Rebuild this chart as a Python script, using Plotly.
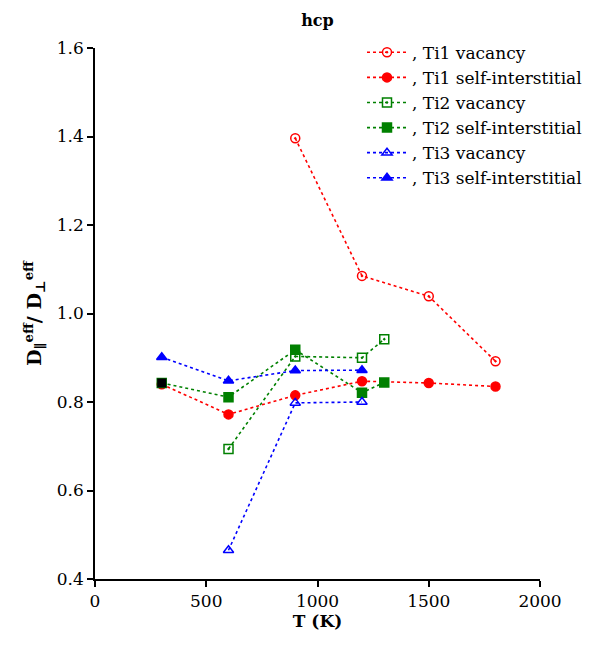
import plotly.graph_objects as go

# Data
ti1_vac_T = [900, 1200, 1500, 1800]
ti1_vac_r = [1.396, 1.085, 1.039, 0.892]

ti1_si_T = [300, 600, 900, 1200, 1500, 1800]
ti1_si_r = [0.840, 0.772, 0.815, 0.847, 0.843, 0.835]

ti2_vac_T = [600, 900, 1200, 1300]
ti2_vac_r = [0.694, 0.903, 0.900, 0.942]

ti2_si_T = [300, 600, 900, 1200, 1300]
ti2_si_r = [0.843, 0.811, 0.918, 0.821, 0.844]

ti3_vac_T = [600, 900, 1200]
ti3_vac_r = [0.465, 0.798, 0.800]

ti3_si_T = [300, 600, 900, 1200]
ti3_si_r = [0.901, 0.848, 0.871, 0.872]

FONT = "DejaVu Serif"

fig = go.Figure()

def add(name, x, y, color, symbol):
    fig.add_trace(go.Scatter(
        x=x, y=y, name=name, mode="lines+markers",
        line=dict(color=color, dash="dot", width=1.6),
        marker=dict(symbol=symbol, size=9, color=color,
                    line=dict(color=color, width=1.5)),
    ))

add(", Ti1 vacancy", ti1_vac_T, ti1_vac_r, "red", "circle-open-dot")
add(", Ti1 self-interstitial", ti1_si_T, ti1_si_r, "red", "circle")
add(", Ti2 vacancy", ti2_vac_T, ti2_vac_r, "green", "square-open-dot")
add(", Ti2 self-interstitial", ti2_si_T, ti2_si_r, "green", "square")
add(", Ti3 vacancy", ti3_vac_T, ti3_vac_r, "blue", "triangle-up-open")
add(", Ti3 self-interstitial", ti3_si_T, ti3_si_r, "blue", "triangle-up")

# black marker drawn over the first Ti2 self-interstitial point (as in the reference)
fig.add_trace(go.Scatter(
    x=ti2_si_T[:1], y=ti2_si_r[:1], mode="markers", showlegend=False,
    marker=dict(symbol="square", size=9, color="black"), hoverinfo="skip",
))

axis_common = dict(
    showline=True, linecolor="black", linewidth=1.5,
    ticks="outside", ticklen=6, tickwidth=1.5, tickcolor="black",
    showgrid=False, zeroline=False,
    tickfont=dict(family=FONT, size=17, color="black"),
)

fig.update_layout(
    width=591, height=632,
    paper_bgcolor="white", plot_bgcolor="white",
    margin=dict(l=87, r=59, t=40, b=61),
    title=dict(text="<b>hcp</b>", x=0.5, xanchor="center", xref="paper",
               y=0.99, yanchor="top",
               font=dict(family=FONT, size=16, color="black")),
    font=dict(family=FONT, color="black"),
    showlegend=True,
    legend=dict(x=0.6, y=1.025, xanchor="left", yanchor="top",
                bgcolor="rgba(0,0,0,0)",
                font=dict(family=FONT, size=17, color="black"),
                tracegroupgap=0, itemwidth=40),
    xaxis=dict(range=[0, 2000], tickvals=[0, 500, 1000, 1500, 2000],
               title=dict(text="<b>T (K)</b>", standoff=2,
                          font=dict(family=FONT, size=17, color="black")),
               **axis_common),
    yaxis=dict(range=[0.4, 1.6], tickvals=[0.4, 0.6, 0.8, 1.0, 1.2, 1.4, 1.6],
               tickformat=".1f",
               title=dict(text="<b>D<sub>∥</sub><sup>eff</sup>/ D<sub>⊥</sub><sup>eff</sup></b>",
                          standoff=10,
                          font=dict(family=FONT, size=19, color="black")),
               **axis_common),
)
fig.update_xaxes(tickprefix="<b>", ticksuffix="</b>")
fig.update_yaxes(tickprefix="<b>", ticksuffix="</b>")

fig.write_html("out.html")
